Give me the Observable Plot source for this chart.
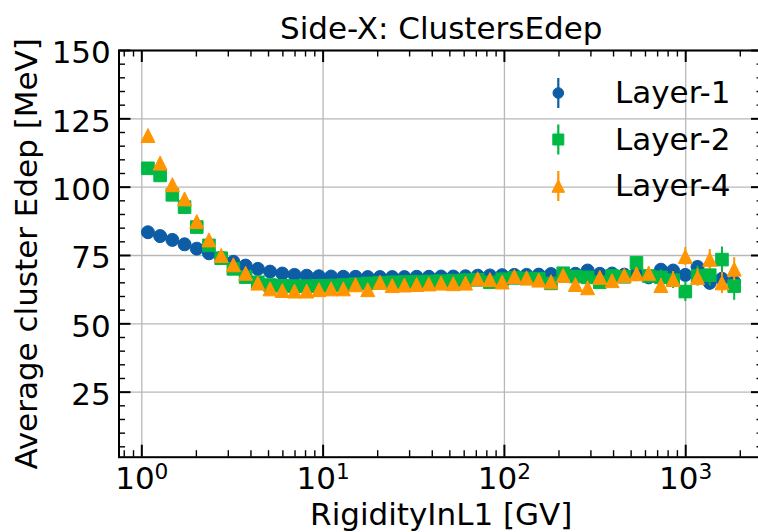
<!DOCTYPE html>
<html><head><meta charset="utf-8">
<script src="https://cdn.jsdelivr.net/npm/d3@7"></script>
<script src="https://cdn.jsdelivr.net/npm/@observablehq/plot@0.6"></script>
<style>
html,body{margin:0;padding:0;background:#fff;}
#chart{width:758px;height:532px;overflow:hidden;}
</style></head><body><div id="chart"></div>
<script>
const titleText = "Side-X: ClustersEdep";
const xLabelText = "RigidityInL1 [GV]";
const yLabelText = "Average cluster Edep [MeV]";
const seriesNames = ["Layer-1", "Layer-2", "Layer-4"];
const seriesColors = ["#0C5DA5", "#00B945", "#FF9500"];

const rigidity = [1.081, 1.262, 1.474, 1.721, 2.010, 2.347, 2.741, 3.200, 3.737, 4.365,
  5.097, 5.953, 6.951, 8.118, 9.481, 11.07, 12.93, 15.10, 17.63, 20.59,
  24.05, 28.08, 32.80, 38.30, 44.73, 52.24, 61.00, 71.24, 83.18, 97.13,
  113.4, 132.5, 154.7, 180.7, 211.0, 246.4, 287.7, 336.0, 392.4, 458.2,
  535.1, 624.9, 729.8, 852.2, 995.2, 1162, 1357, 1585, 1851];

const layer1 = [83.5, 82.1, 80.7, 79.1, 77.5, 75.8, 74.2, 72.7, 71.3, 70.1,
  69.1, 68.4, 67.9, 67.6, 67.4, 67.3, 67.2, 67.2, 67.1, 67.1,
  67.1, 67.1, 67.2, 67.2, 67.3, 67.3, 67.4, 67.6, 67.7, 67.8,
  67.9, 67.9, 68.0, 68.2, 68.1, 68.3, 69.5, 68.3, 68.4, 68.0,
  68.3, 67.0, 69.8, 69.5, 67.9, 70.8, 65.0, 66.5, 65.3];
const layer1Err = [0.2, 0.2, 0.2, 0.2, 0.2, 0.2, 0.2, 0.2, 0.2, 0.2,
  0.2, 0.2, 0.2, 0.2, 0.2, 0.2, 0.2, 0.2, 0.2, 0.2,
  0.2, 0.2, 0.2, 0.2, 0.2, 0.2, 0.2, 0.2, 0.2, 0.2,
  0.3, 0.3, 0.4, 0.4, 0.5, 0.6, 0.7, 0.8, 0.9, 1.0,
  1.2, 1.4, 1.6, 1.8, 2.0, 2.3, 2.6, 3.0, 3.4];

const layer2 = [106.9, 104.3, 97.2, 92.7, 85.4, 78.7, 74.0, 70.1, 67.1, 65.2,
  64.2, 63.9, 63.8, 63.8, 63.9, 64.0, 64.2, 64.5, 64.8, 65.0,
  65.2, 65.3, 65.4, 65.5, 65.6, 65.8, 66.0, 66.1, 65.2, 66.3,
  66.8, 66.6, 66.5, 64.8, 68.5, 67.3, 67.0, 65.2, 67.5, 67.2,
  72.3, 67.5, 67.0, 66.0, 61.8, 67.5, 67.8, 73.5, 63.8];
const layer2Err = [0.3, 0.3, 0.3, 0.3, 0.3, 0.3, 0.3, 0.3, 0.3, 0.3,
  0.3, 0.3, 0.3, 0.3, 0.3, 0.3, 0.3, 0.3, 0.3, 0.3,
  0.3, 0.3, 0.3, 0.3, 0.3, 0.3, 0.3, 0.3, 0.3, 0.3,
  0.5, 0.6, 0.7, 0.8, 0.9, 1.0, 1.2, 1.4, 1.6, 1.8,
  2.1, 2.4, 2.7, 3.1, 3.6, 3.6, 4.0, 4.6, 5.2];

const layer4 = [118.9, 108.8, 100.9, 95.7, 87.4, 80.7, 75.0, 71.6, 68.5, 64.9,
  62.8, 62.2, 62.0, 62.0, 62.5, 62.8, 62.8, 64.3, 62.5, 65.2,
  64.0, 64.2, 64.4, 64.6, 64.9, 64.7, 64.9, 66.5, 66.2, 65.3,
  67.3, 66.8, 66.0, 65.4, 67.7, 64.4, 63.2, 67.0, 65.8, 67.7,
  68.3, 68.5, 64.0, 66.2, 74.6, 67.0, 73.6, 65.0, 70.0];
const layer4Err = [0.3, 0.3, 0.3, 0.3, 0.3, 0.3, 0.3, 0.3, 0.3, 0.3,
  0.3, 0.3, 0.3, 0.3, 0.3, 0.3, 0.3, 0.3, 0.3, 0.3,
  0.3, 0.3, 0.3, 0.3, 0.3, 0.3, 0.3, 0.3, 0.3, 0.3,
  0.5, 0.6, 0.7, 0.8, 0.9, 1.0, 1.2, 1.4, 1.6, 1.8,
  2.0, 2.3, 2.6, 2.9, 3.3, 3.2, 3.6, 3.9, 4.2];

const xMajorTicks = [1, 10, 100, 1000];
const xMajorExponents = ["0", "1", "2", "3"];
const xMinorTicks = [0.8, 0.9, 2, 3, 4, 5, 6, 7, 8, 9, 20, 30, 40, 50, 60, 70, 80, 90,
  200, 300, 400, 500, 600, 700, 800, 900, 2000];
const yMajorTicks = [25, 50, 75, 100, 125, 150];
const yMinorTicks = [5, 10, 15, 20, 30, 35, 40, 45, 55, 60, 65, 70, 80, 85, 90, 95,
  105, 110, 115, 120, 130, 135, 140, 145];

const xLimits = [0.7485, 2686];
const yLimits = [1.2, 150];

const values = [layer1, layer2, layer4];
const errors = [layer1Err, layer2Err, layer4Err];

const W = 758, H = 532;
const mL = 118.5, mR = -5, mT = 50, mB = 75.3;
const frameW = W - mL - mR, frameH = H - mT - mB;
const FS = 31;

const squareSym = {draw(ctx, size) { const r = Math.sqrt(size / Math.PI); ctx.rect(-r, -r, 2 * r, 2 * r); }};
const triSym = {draw(ctx, size) { const r = Math.sqrt(size / Math.PI); ctx.moveTo(0, -r); ctx.lineTo(r, r); ctx.lineTo(-r, r); ctx.closePath(); }};
const symbols = ["circle", squareSym, triSym];
const symR = [6.5, 6.3, 7];

const rows = seriesNames.map((name, s) => rigidity.map((x, i) => ({
  series: name, x, y: values[s][i], lo: values[s][i] - errors[s][i], hi: values[s][i] + errors[s][i]
})));

const seriesMarks = [];
rows.forEach((data, s) => {
  seriesMarks.push(Plot.ruleX(data, {x: "x", y1: "lo", y2: "hi", stroke: seriesColors[s], strokeWidth: 2}));
  seriesMarks.push(Plot.dot(data, {x: "x", y: "y", r: symR[s], symbol: symbols[s], fill: seriesColors[s], stroke: seriesColors[s], strokeWidth: 1}));
});

const gridColor = "#b8b8b8";
const chart = Plot.plot({
  width: W, height: H,
  marginLeft: mL, marginRight: mR, marginTop: mT, marginBottom: mB,
  style: {fontFamily: "DejaVu Sans", background: "white", color: "black"},
  x: {type: "log", domain: xLimits, axis: null},
  y: {domain: yLimits, axis: null},
  marks: [
    Plot.ruleX(xMajorTicks, {stroke: gridColor, strokeWidth: 1.3}),
    Plot.ruleY(yMajorTicks, {stroke: gridColor, strokeWidth: 1.3}),
    ...seriesMarks,
    Plot.tickX(xMajorTicks, {x: d => d, insetTop: frameH - 12, stroke: "black", strokeWidth: 2}),
    Plot.tickX(xMajorTicks, {x: d => d, insetBottom: frameH - 12, stroke: "black", strokeWidth: 2}),
    Plot.tickX(xMinorTicks, {x: d => d, insetTop: frameH - 6.5, stroke: "black", strokeWidth: 1.4}),
    Plot.tickX(xMinorTicks, {x: d => d, insetBottom: frameH - 6.5, stroke: "black", strokeWidth: 1.4}),
    Plot.tickY(yMajorTicks, {y: d => d, insetRight: frameW - 12, stroke: "black", strokeWidth: 2}),
    Plot.tickY(yMajorTicks, {y: d => d, insetLeft: frameW - 12, stroke: "black", strokeWidth: 2}),
    Plot.tickY(yMinorTicks, {y: d => d, insetRight: frameW - 6.5, stroke: "black", strokeWidth: 1.4}),
    Plot.tickY(yMinorTicks, {y: d => d, insetLeft: frameW - 6.5, stroke: "black", strokeWidth: 1.4}),
    Plot.frame({stroke: "black", strokeWidth: 2}),
    Plot.text(xMajorTicks, {x: d => d, text: () => "10", frameAnchor: "bottom", dy: 31.6, lineAnchor: "bottom", textAnchor: "middle", fontSize: FS, fill: "black"}),
    Plot.text(yMajorTicks, {y: d => d, text: d => String(d), frameAnchor: "left", dx: -8.2, dy: 2.9, textAnchor: "end", lineAnchor: "middle", fontSize: FS, fill: "black"}),
    Plot.text([titleText], {frameAnchor: "top", dy: -11.5, lineAnchor: "bottom", textAnchor: "middle", fontSize: FS, fill: "black"}),
    Plot.text([xLabelText], {frameAnchor: "bottom", dy: 67.8, lineAnchor: "bottom", textAnchor: "middle", fontSize: FS, fill: "black"}),
    Plot.text([yLabelText], {frameAnchor: "left", dx: -81.8, rotate: -90, lineAnchor: "bottom", textAnchor: "middle", fontSize: FS, fill: "black"})
  ]
});

const svg = d3.select(chart);
let xi = 0;
svg.selectAll("text").each(function() {
  if (this.textContent === "10" && xi < xMajorExponents.length) {
    d3.select(this).append("tspan").attr("dy", -9.5).attr("font-size", 21.7).text(xMajorExponents[xi++]);
  }
});

// legend
const leg = svg.append("g").attr("font-family", "DejaVu Sans").attr("font-size", FS).attr("text-anchor", "start");
const legMarkerX = 558.3, legTextX = 615, legY0 = 93, legStep = 46.5;
seriesNames.forEach((name, s) => {
  const cy = legY0 + s * legStep;
  leg.append("line").attr("x1", legMarkerX).attr("x2", legMarkerX).attr("y1", cy - 15).attr("y2", cy + 15)
    .attr("stroke", seriesColors[s]).attr("stroke-width", 2.2);
  const sym = s === 0 ? d3.symbolCircle : (s === 1 ? squareSym : triSym);
  const rr = [5.3, 5.5, 6.3][s];
  leg.append("path").attr("d", d3.symbol(sym, rr * rr * Math.PI)()).attr("transform", `translate(${legMarkerX},${cy})`)
    .attr("fill", seriesColors[s]).attr("stroke", seriesColors[s]).attr("stroke-width", 1);
  leg.append("text").attr("x", legTextX).attr("y", cy + 10).attr("text-anchor", "start").attr("fill", "black").text(name);
});

document.getElementById("chart").appendChild(chart);
</script>
</body></html>
